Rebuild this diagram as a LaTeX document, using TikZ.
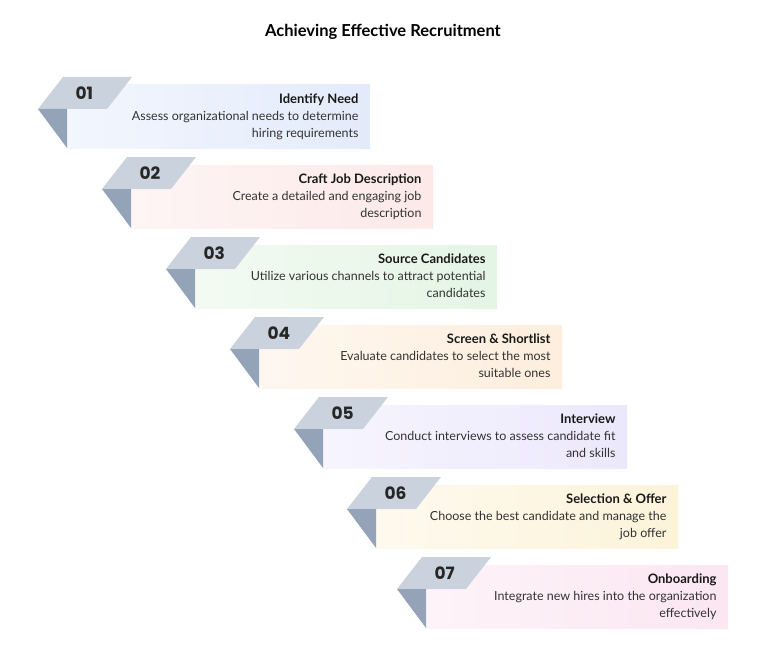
\documentclass[tikz,border=0pt]{standalone}
\usepackage{fontspec}
\setmainfont{Lato}
\newfontfamily\numfont{Poppins}
\definecolor{tabL}{HTML}{C9D2DD}
\definecolor{tabD}{HTML}{94A3B8}
\definecolor{cA}{HTML}{E3EBFB}
\definecolor{cB}{HTML}{FCE9E8}
\definecolor{cC}{HTML}{E4F5E4}
\definecolor{cD}{HTML}{FDEEDD}
\definecolor{cE}{HTML}{ECE8FC}
\definecolor{cF}{HTML}{FCF3D9}
\definecolor{cG}{HTML}{FBE6F1}
\tikzset{
  tabtop/.style={fill=tabL,draw=none},
  tabside/.style={fill=tabD,draw=none},
  card/.style={draw=none},
  numtxt/.style={font=\numfont\bfseries\fontsize{17}{20}\selectfont,text=black!85,anchor=west},
  headtxt/.style={font=\bfseries\fontsize{13}{15}\selectfont,text=black!90,anchor=north east},
  desctxt/.style={font=\fontsize{12.5}{17}\selectfont,text=black!80,align=right,anchor=north east},
  titletxt/.style={font=\bfseries\fontsize{16.5}{20}\selectfont,text=black}
}
\begin{document}
\begin{tikzpicture}[x=1pt,y=-1pt]
\useasboundingbox (0,0) rectangle (765,650);
\node[titletxt] (title) at (383,32) {Achieving Effective Recruitment};
\foreach \i/\L/\R/\Y/\col/\num/\head/\desc in {
 1/38/370/77/cA/01/Identify Need/{Assess organizational needs to determine\\hiring requirements},
 2/102/433/157/cB/02/Craft Job Description/{Create a detailed and engaging job\\description},
 3/166/497/237/cC/03/Source Candidates/{Utilize various channels to attract potential\\candidates},
 4/230/562/317/cD/04/Screen \& Shortlist/{Evaluate candidates to select the most\\suitable ones},
 5/294/627/397/cE/05/Interview/{Conduct interviews to assess candidate fit\\and skills},
 6/347/678/477/cF/06/Selection \& Offer/{Choose the best candidate and manage the\\job offer},
 7/397/728/557/cG/07/Onboarding/{Integrate new hires into the organization\\effectively}}{
  \fill[card,left color=\col!45!white,right color=\col] (\L+29,\Y+8) rectangle (\R,\Y+71);
  \fill[tabtop] (\L,\Y+32) -- (\L+25,\Y) -- (\L+94,\Y) -- (\L+69,\Y+32) -- cycle;
  \fill[tabside] (\L,\Y+32) -- (\L+29,\Y+32) -- (\L+29,\Y+71) -- cycle;
  \node[numtxt] (n\i) at (\L+34,\Y+16) {\num};
  \node[headtxt] (h\i) at (\R-8,\Y+13) {\head};
  \node[desctxt] (d\i) at (\R-8,\Y+31) {\desc};
}
\end{tikzpicture}
\end{document}
